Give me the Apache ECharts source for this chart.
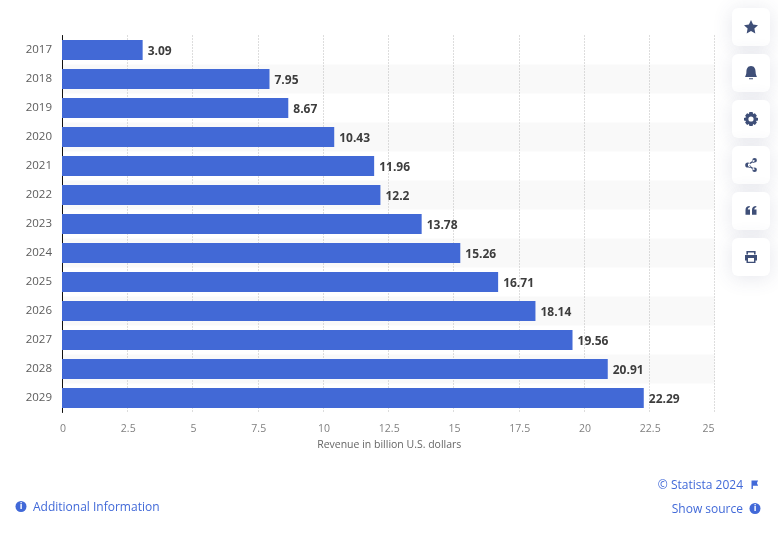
<!DOCTYPE html>
<html><head><meta charset="utf-8">
<style>html,body{margin:0;padding:0;background:#fff}#c{width:778px;height:536px}</style>
<script src="https://cdn.jsdelivr.net/npm/echarts@6/dist/echarts.min.js"></script>
</head><body><div id="c"></div>
<script>
const categories=['2017','2018','2019','2020','2021','2022','2023','2024','2025','2026','2027','2028','2029'];
const revenue=[3.09,7.95,8.67,10.43,11.96,12.2,13.78,15.26,16.71,18.14,19.56,20.91,22.29];
const axisTitle='Revenue in billion U.S. dollars';
const FONT='"Open Sans"';
const BLUE='#4169d8', ICON='#3f4f78';
const chart=echarts.init(document.getElementById('c'),null,{renderer:'canvas'});
const icons={
 star:'M0,-7 L2.1,-2.4 L7,-1.8 L3.4,1.5 L4.3,6.5 L0,4 L-4.3,6.5 L-3.4,1.5 L-7,-1.8 L-2.1,-2.4 Z',
 bell:'M0,-7 C3.4,-7 4.6,-4 4.6,-1 C4.6,1.5 5.6,3 6,4 L-6,4 C-5.6,3 -4.6,1.5 -4.6,-1 C-4.6,-4 -3.4,-7 0,-7 Z M-2,5.2 L2,5.2 L2,6.2 L-2,6.2 Z',
 gear:'M-1.6,-7 L1.6,-7 L2.1,-5 L3.9,-5.8 L5.9,-3.3 L4.7,-1.7 L7,-1 L7,1.6 L4.9,2 L5.9,3.6 L3.9,5.9 L2.1,5 L1.6,7 L-1.6,7 L-2.1,5 L-3.9,5.9 L-5.9,3.6 L-4.9,2 L-7,1.6 L-7,-1 L-4.7,-1.7 L-5.9,-3.3 L-3.9,-5.8 L-2.1,-5 Z M0,-2.6 A2.6,2.6 0 1 0 0,2.6 A2.6,2.6 0 1 0 0,-2.6 Z',
 share:'M-3.2,-2.6 A2.6,2.6 0 1 0 -3.2,2.6 A2.6,2.6 0 1 0 -3.2,-2.6 Z M3.6,-7 A2.3,2.3 0 1 0 3.6,-2.4 A2.3,2.3 0 1 0 3.6,-7 Z M3.6,2.4 A2.3,2.3 0 1 0 3.6,7 A2.3,2.3 0 1 0 3.6,2.4 Z M-3,-0.9 L3,-5.2 L3.8,-4.1 L-2.2,0 L3.8,4.1 L3,5.2 L-3,0.9 Z',
 quote:'M-5.5,-1 C-5.5,-3.5 -4,-5 -1.2,-5 L-1.2,-3.8 C-2.4,-3.6 -3,-3 -3.2,-1.5 L-1,-1.5 L-1,3.8 L-5.5,3.8 Z M1,-1 C1,-3.5 2.5,-5 5.3,-5 L5.3,-3.8 C4.1,-3.6 3.5,-3 3.3,-1.5 L5.5,-1.5 L5.5,3.8 L1,3.8 Z',
 print:'M-4.6,-6 L4.6,-6 L4.6,-2.5 L3,-2.5 L3,-4.6 L-3,-4.6 L-3,-2.5 L-4.6,-2.5 Z M-6,-2 L6,-2 L6,3.4 L4.5,3.4 L4.5,6 L-4.5,6 L-4.5,3.4 L-6,3.4 Z M-3,1 L-3,4.7 L3,4.7 L3,1 Z',
 flag:'M-3,-4 L3.6,-4 L2.4,-1.4 L3.6,1.2 L-1.6,1.2 L-1.6,4.6 L-3,4.6 Z'
};
Object.keys(icons).forEach(n=>echarts.graphic.registerShape('icon_'+n,echarts.graphic.extendPath(icons[n],{})));
const g=[];
['star','bell','gear','share','quote','print'].forEach((n,i)=>{
  const y=8+46*i;
  g.push({type:'rect',shape:{x:732,y:y,width:38,height:38,r:6},style:{fill:'#fff',shadowBlur:20,shadowColor:'rgba(70,80,120,0.14)',shadowOffsetY:2},z:10});
  g.push({type:'icon_'+n,x:751,y:y+19,style:{fill:ICON,fillRule:'evenodd'},z:11});
});
function info(x,y){
  g.push({type:'circle',shape:{cx:x,cy:y,r:5.5},style:{fill:BLUE},z:11});
  g.push({type:'text',x:x,y:y,style:{text:'i',fill:'#fff',font:'bold 9px '+FONT,align:'center',verticalAlign:'middle'},z:12});
}
function label(t,x,y,a){g.push({type:'text',x:x,y:y,style:{text:t,fill:BLUE,font:'12px '+FONT,align:a,verticalAlign:'middle'},z:11});}
info(21,506.5);label('Additional Information',33,508,'left');
label('© Statista 2024',743,486,'right');
g.push({type:'icon_flag',x:754.5,y:484.5,style:{fill:BLUE},z:11});
label('Show source',743,510,'right');info(755,508.5);
chart.setOption({
 animation:false,
 textStyle:{fontFamily:FONT},
 grid:{left:62,width:652.5,top:35.5,height:377,containLabel:false},
 xAxis:{type:'value',min:0,max:25,interval:2.5,
   name:axisTitle,nameLocation:'middle',nameGap:27,nameTextStyle:{fontSize:10.5,color:'#666',fontFamily:FONT,padding:[0,0,0,2]},
   axisLine:{show:false},axisTick:{show:false},
   axisLabel:{color:'#808080',fontSize:10.5,margin:9,padding:[2,0,0,2],fontFamily:FONT,alignMaxLabel:'right',formatter:v=>String(v)},
   splitLine:{show:true,lineStyle:{color:'#bbbbbb',type:[1,2],width:1}}},
 yAxis:{type:'category',data:categories,inverse:true,
   axisLine:{show:true,lineStyle:{color:'#111',width:1}},axisTick:{show:false},
   axisLabel:{color:'#5c5c5c',fontSize:11.5,margin:10,padding:[6,0,0,0],fontFamily:FONT},
   splitArea:{show:true,areaStyle:{color:['rgba(0,0,0,0)','#f9f9f9']}}},
 series:[{type:'bar',data:revenue,barWidth:20,itemStyle:{color:'#4269d6'},
   label:{show:true,position:'right',distance:5,offset:[0,2],color:'#3d3d3d',fontWeight:'bold',fontSize:12,fontFamily:FONT}}],
 graphic:g
});
</script></body></html>
